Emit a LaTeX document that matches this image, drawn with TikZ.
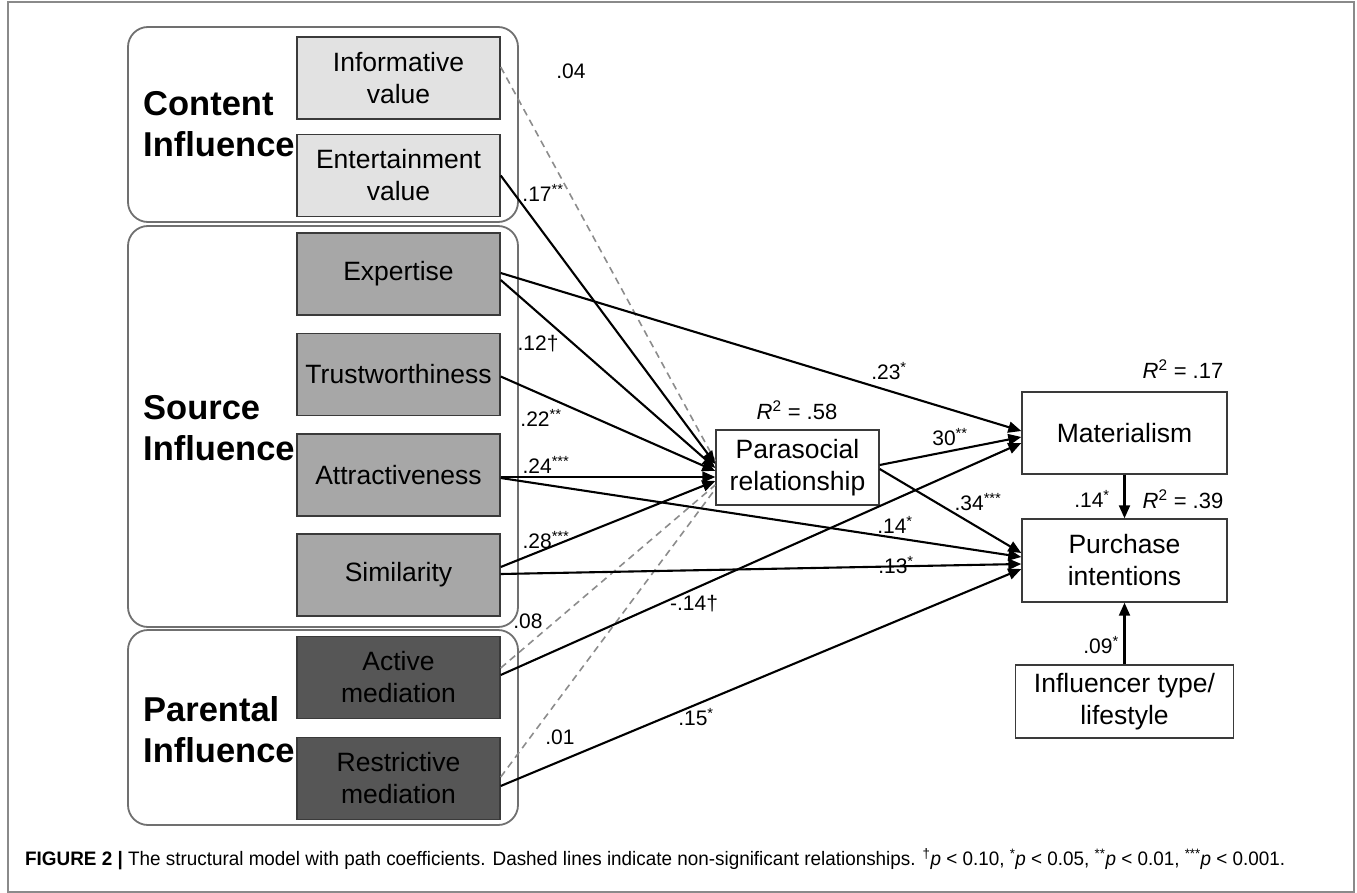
\documentclass[tikz,border=0pt]{standalone}
\usepackage{fontspec}
\setmainfont{Liberation Sans}
\usepackage{graphicx}
\usetikzlibrary{arrows.meta,calc}
\definecolor{cfill}{HTML}{E2E2E2}
\definecolor{sfill}{HTML}{A7A7A7}
\definecolor{pfill}{HTML}{565656}
\definecolor{boxline}{HTML}{3A3A3A}
\definecolor{grpline}{HTML}{707070}
\definecolor{dashcol}{HTML}{8C8C8C}
\definecolor{framecol}{HTML}{8A8A8A}
\newcommand\bxfont{\fontsize{26.5}{32}\selectfont}
\newcommand\grfont{\fontsize{34.5}{41}\selectfont\bfseries}
\newcommand\cofont{\fontsize{21}{24}\selectfont}
\newcommand\rsq[1]{\textit{R}\textsuperscript{2} = #1}
\begin{document}
\begin{tikzpicture}[x=1pt,y=-1pt,
  grp/.style={draw=grpline, line width=1.8pt, rounded corners=20pt, inner sep=0pt},
  grplabel/.style={font=\grfont, align=left, anchor=west, inner sep=0pt},
  ibox/.style={draw=boxline, line width=1.4pt, minimum width=203pt, minimum height=82pt, align=center, font=\bxfont, inner sep=0pt},
  obox/.style={draw=boxline, line width=1.4pt, fill=white, align=center, font=\bxfont, inner sep=0pt},
  coef/.style={font=\cofont, inner sep=0pt},
  rlab/.style={font=\fontsize{22}{26}\selectfont, inner sep=0pt},
  sig/.style={line width=2.1pt, -{Triangle[length=13pt,width=11pt]}},
  nsig/.style={draw=dashcol, line width=1.6pt, dash pattern=on 7pt off 5pt}
]
\useasboundingbox (0,0) rectangle (1357,893);
\draw[framecol, line width=1.5pt] (8,2) rectangle (1354,892);

% group containers
\node[grp, minimum width=390pt, minimum height=195pt] (gcont) at (323,124.5) {};
\node[grp, minimum width=390pt, minimum height=401pt] (gsrc) at (323,426.5) {};
\node[grp, minimum width=390pt, minimum height=195pt] (gpar) at (323,727.5) {};
\node[grplabel] (lcont) at (143,124.5) {Content\\Influence};
\node[grplabel] (lsrc) at (143,428.5) {Source\\Influence};
\node[grplabel] (lpar) at (143,729.5) {Parental\\Influence};

% predictor boxes
\node[ibox, fill=cfill] (info) at (398.5,78) {Informative\\value};
\node[ibox, fill=cfill] (ent) at (398.5,175.5) {Entertainment\\value};
\node[ibox, fill=sfill] (exp) at (398.5,274) {Expertise};
\node[ibox, fill=sfill] (tru) at (398.5,374.5) {Trustworthiness};
\node[ibox, fill=sfill] (att) at (398.5,475) {Attractiveness};
\node[ibox, fill=sfill] (sim) at (398.5,575) {Similarity};
\node[ibox, fill=pfill] (act) at (398.5,677.5) {Active\\mediation};
\node[ibox, fill=pfill] (res) at (398.5,778.5) {Restrictive\\mediation};

% outcome boxes
\node[obox, minimum width=163pt, minimum height=75pt] (par) at (797.5,467.5) {Parasocial\\relationship};
\node[obox, minimum width=205pt, minimum height=82pt] (mat) at (1124.5,433) {Materialism};
\node[obox, minimum width=205pt, minimum height=83pt] (pur) at (1124.5,560.5) {Purchase\\intentions};
\node[obox, minimum width=218pt, minimum height=73pt] (inf) at (1124.5,701.5) {Influencer type/\\lifestyle};

\node[rlab] (r58) at (797,410) {\rsq{.58}};
\node[rlab] (r17) at (1183,369) {\rsq{.17}};
\node[rlab] (r39) at (1183,499) {\rsq{.39}};

% non-significant paths
\draw[nsig] ([yshift=11pt]info.east) -- ([yshift=6.5pt]par.west);
\draw[nsig] ([yshift=9.5pt]act.east) -- ([yshift=-17.5pt]par.west);
\draw[nsig] ([yshift=1.5pt]res.east) -- ([yshift=-21.5pt]par.west);

% significant paths
\draw[sig] (ent.east) -- ([yshift=3.5pt]par.west);
\draw[sig] ([yshift=1pt]exp.east) -- ([yshift=2pt]mat.west);
\draw[sig] ([yshift=-6pt]exp.east) -- ([yshift=-0.5pt]par.west);
\draw[sig] ([yshift=-2pt]tru.east) -- ([yshift=-3.5pt]par.west);
\draw[sig] ([yshift=-2pt]att.east) -- ([yshift=-9.5pt]par.west);
\draw[sig] ([yshift=-3pt]att.east) -- ([yshift=3.5pt]pur.west);
\draw[sig] ([yshift=8pt]sim.east) -- ([yshift=-13.5pt]par.west);
\draw[sig] ([yshift=1pt]sim.east) -- ([yshift=-3.5pt]pur.west);
\draw[sig] ([yshift=2.5pt]act.east) -- ([yshift=-10pt]mat.west);
\draw[sig] ([yshift=-7.5pt]res.east) -- ([yshift=-8.5pt]pur.west);
\draw[sig] ([yshift=2.5pt]par.east) -- ([yshift=-4pt]mat.west);
\draw[sig] ([yshift=-1.5pt]par.east) -- ([yshift=7.5pt]pur.west);
\draw[sig] (mat.south) -- (pur.north);
\draw[sig] (inf.north) -- (pur.south);

% coefficients
\node[coef] (c1) at (571,71) {.04};
\node[coef] (c2) at (543,193) {.17\textsuperscript{**}};
\node[coef] (c3) at (538,344) {.12†};
\node[coef] (c4) at (541,418) {.22\textsuperscript{**}};
\node[coef] (c5) at (546,465) {.24\textsuperscript{***}};
\node[coef] (c6) at (546,540) {.28\textsuperscript{***}};
\node[coef] (c7) at (528,621) {.08};
\node[coef] (c8) at (560,737) {.01};
\node[coef] (c9) at (889,371) {.23\textsuperscript{*}};
\node[coef] (c10) at (950,437) {30\textsuperscript{**}};
\node[coef] (c11) at (978,502) {.34\textsuperscript{***}};
\node[coef] (c12) at (895,525) {.14\textsuperscript{*}};
\node[coef] (c13) at (896,565) {.13\textsuperscript{*}};
\node[coef] (c14) at (694,604) {-.14†};
\node[coef] (c15) at (696,717) {.15\textsuperscript{*}};
\node[coef] (c16) at (1092,499) {.14\textsuperscript{*}};
\node[coef] (c17) at (1101,645) {.09\textsuperscript{*}};

% caption
\node[anchor=west, inner sep=0pt] (cap) at (25,859) {\resizebox{1260pt}{\height}{\fontsize{19.5}{22}\selectfont\textbf{FIGURE 2} \textbf{|} The structural model with path coefficients. Dashed lines indicate non-significant relationships. \textsuperscript{†}\textit{p} < 0.10, \textsuperscript{*}\textit{p} < 0.05, \textsuperscript{**}\textit{p} < 0.01, \textsuperscript{***}\textit{p} < 0.001.}};
\end{tikzpicture}
\end{document}
